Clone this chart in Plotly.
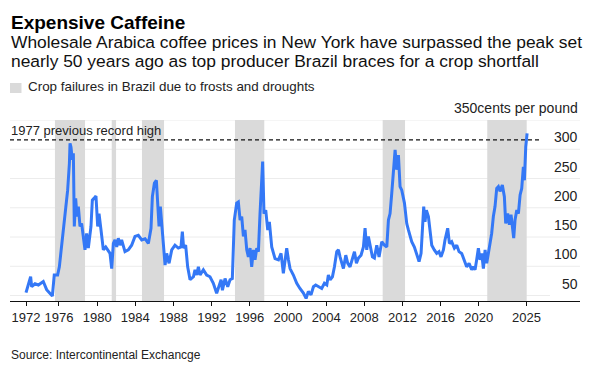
import plotly.graph_objects as go

# ---- data ----
dates = [
    "1972-07-18", "1973-01-11", "1973-02-20", "1973-06-27", "1973-11-03", "1974-05-10",
    "1974-09-16", "1975-01-22", "1975-04-22", "1975-07-04", "1975-11-10", "1976-01-15",
    "1976-04-11", "1976-06-16", "1976-08-17", "1976-10-22", "1976-11-28", "1977-02-03",
    "1977-02-27", "1977-04-04", "1977-05-25", "1977-07-04", "1977-08-10", "1977-10-01",
    "1977-11-21", "1978-01-11", "1978-03-16", "1978-05-17", "1978-07-19", "1978-09-23",
    "1978-11-25", "1979-01-29", "1979-05-10", "1979-07-01", "1979-09-02", "1979-11-17",
    "1980-01-22", "1980-03-13", "1980-05-28", "1980-08-25", "1980-11-25", "1981-03-05",
    "1981-05-07", "1981-07-11", "1981-09-13", "1981-11-14", "1982-01-19", "1982-03-20",
    "1982-05-25", "1982-07-26", "1982-12-02", "1983-04-08", "1983-08-14", "1983-12-20",
    "1984-04-26", "1984-09-02", "1985-01-08", "1985-05-14", "1985-08-24", "1985-10-15",
    "1986-01-01", "1986-03-17", "1986-05-07", "1986-06-27", "1986-08-17", "1986-10-08",
    "1986-12-09", "1987-02-13", "1987-04-15", "1987-07-16", "1987-10-26", "1988-02-27",
    "1988-07-04", "1988-10-15", "1988-12-05", "1989-01-25", "1989-04-11", "1989-06-27",
    "1989-09-27", "1990-02-03", "1990-04-04", "1990-06-10", "1990-08-11", "1990-10-15",
    "1991-02-17", "1991-06-24", "1991-10-30", "1992-03-06", "1992-07-11", "1992-10-12",
    "1992-12-28", "1993-02-17", "1993-05-28", "1993-09-08", "1993-12-05", "1994-03-03",
    "1994-05-17", "1994-08-17", "1994-10-19", "1994-12-25", "1995-02-25", "1995-05-01",
    "1995-07-01", "1995-09-06", "1995-11-07", "1996-01-11", "1996-03-13", "1996-05-17",
    "1996-07-19", "1996-09-23", "1996-11-25", "1997-01-26", "1997-04-01", "1997-05-07",
    "1997-06-27", "1997-09-02", "1997-11-17", "1998-01-19", "1998-04-19", "1998-06-20",
    "1998-08-24", "1999-01-01", "1999-04-11", "1999-07-08", "1999-09-13", "1999-11-14",
    "2000-01-19", "2000-03-20", "2000-07-26", "2000-12-02", "2001-04-04", "2001-08-14",
    "2001-11-25", "2002-02-20", "2002-06-01", "2002-09-01", "2002-11-28", "2003-03-09",
    "2003-07-15", "2003-10-26", "2004-01-26", "2004-03-27", "2004-06-01", "2004-08-29",
    "2004-11-14", "2005-02-10", "2005-04-16", "2005-06-17", "2005-08-22", "2005-10-23",
    "2006-01-22", "2006-04-08", "2006-07-04", "2006-10-04", "2006-12-20", "2007-03-06",
    "2007-05-22", "2007-08-29", "2007-11-28", "2008-01-30", "2008-04-04", "2008-06-05",
    "2008-08-11", "2008-11-07", "2009-01-22", "2009-04-22", "2009-07-19", "2009-10-30",
    "2010-02-10", "2010-05-11", "2010-07-12", "2010-09-13", "2010-11-17", "2011-01-19",
    "2011-03-25", "2011-05-25", "2011-07-30", "2011-10-01", "2011-12-05", "2012-03-17",
    "2012-06-13", "2012-08-15", "2012-10-16", "2012-12-20", "2013-04-01", "2013-06-28",
    "2013-09-27", "2013-12-13", "2014-02-03", "2014-03-24", "2014-05-14", "2014-07-04",
    "2014-09-20", "2014-11-21", "2015-01-26", "2015-05-04", "2015-08-04", "2015-10-30",
    "2016-01-15", "2016-04-15", "2016-06-16", "2016-09-27", "2016-12-02", "2017-02-27",
    "2017-06-10", "2017-09-09", "2017-12-05", "2018-03-17", "2018-06-27", "2018-09-23",
    "2018-12-25", "2019-04-04", "2019-06-05", "2019-08-11", "2019-10-12", "2019-12-16",
    "2020-02-17", "2020-04-23", "2020-06-24", "2020-08-29", "2020-10-30", "2021-01-04",
    "2021-03-06", "2021-05-07", "2021-07-11", "2021-09-13", "2021-11-17", "2022-01-19",
    "2022-03-24", "2022-06-20", "2022-09-06", "2022-10-27", "2023-01-11", "2023-03-17",
    "2023-05-19", "2023-07-08", "2023-08-29", "2023-10-19", "2023-12-25", "2024-02-25",
    "2024-04-30", "2024-07-01", "2024-09-02", "2024-10-12", "2024-12-02", "2025-01-23",
]
prices = [
    55, 82, 65, 70, 68, 74,
    60, 54, 49, 85, 85, 99,
    136, 156, 179, 213, 230, 276,
    310, 304, 282, 293, 168, 216,
    185, 202, 168, 173, 153, 128,
    156, 131, 168, 213, 216, 220,
    168, 190, 162, 128, 133, 125,
    122, 96, 139, 145, 133, 148,
    136, 145, 125, 128, 136, 151,
    153, 145, 147, 139, 165, 219,
    242, 247, 208, 168, 202, 168,
    128, 102, 122, 105, 128, 136,
    131, 133, 159, 131, 136, 99,
    77, 82, 94, 85, 99, 85,
    94, 85, 82, 71, 54, 65,
    77, 59, 79, 65, 77, 79,
    179, 208, 210, 179, 185, 151,
    162, 128, 116, 131, 99, 128,
    111, 131, 125, 190, 236, 279,
    190, 196, 162, 176, 133, 122,
    113, 111, 122, 88, 116, 131,
    111, 96, 85, 71, 62, 54,
    45, 57, 51, 65, 68, 65,
    62, 71, 68, 85, 77, 82,
    99, 125, 128, 116, 105, 96,
    119, 105, 99, 111, 125, 105,
    114, 119, 133, 165, 128, 151,
    133, 116, 114, 136, 116, 142,
    136, 133, 179, 190, 225, 270,
    299, 265, 290, 236, 230, 208,
    173, 162, 151, 142, 133, 119,
    108, 122, 168, 202, 176, 196,
    185, 162, 136, 128, 122, 125,
    116, 128, 145, 165, 139, 142,
    131, 136, 125, 122, 111, 99,
    105, 94, 99, 94, 111, 131,
    111, 122, 96, 128, 105, 122,
    133, 156, 185, 202, 233, 236,
    228, 239, 219, 173, 190, 171,
    188, 168, 148, 179, 196, 190,
    222, 233, 270, 247, 304, 327,
]
crop_start = ["1975-07-30", "1981-07-12", "1984-09-12", "1994-06-12", "2009-12-05", "2020-11-20"]
crop_end = ["1978-09-25", "1981-12-25", "1987-01-05", "1997-07-08", "2012-04-08", "2025-01-08"]
record_1977 = 316
tick_dates = ["1972-07-18", "1976-01-01", "1980-01-01", "1984-01-01", "1988-01-01", "1992-01-01",
              "1996-01-01", "2000-01-01", "2004-01-01", "2008-01-01", "2012-01-01", "2016-01-01",
              "2020-01-01", "2025-01-01"]
tick_text = ["1972", "1976", "1980", "1984", "1988", "1992", "1996", "2000", "2004", "2008",
             "2012", "2016", "2020", "2025"]
y_ticks = [50, 100, 150, 200, 250, 300, 350]
y_labels = ["50", "100", "150", "200", "250", "300", "350cents per pound"]

FONT = "Liberation Sans, Arial, Helvetica, sans-serif"
W, H = 600, 370
ML, MR, MT, MB = 10, 20, 120, 69
PW, PH = W - ML - MR, H - MT - MB


def px_x(px):
    return (px - ML) / PW


def px_y(py):
    return (H - MB - py) / PH


fig = go.Figure()
fig.add_trace(go.Scatter(x=dates, y=prices, mode="lines",
                         line=dict(color="#3478f6", width=3), hoverinfo="skip",
                         showlegend=False))

shapes = []
# gridlines
for v in y_ticks:
    shapes.append(dict(type="line", xref="paper", yref="y", x0=0,
                       x1=px_x(550) if v == 50 else 1, y0=v, y1=v,
                       line=dict(color="#ececec", width=1), layer="below"))
# crop failure bands
for s, e in zip(crop_start, crop_end):
    shapes.append(dict(type="rect", xref="x", yref="paper", x0=s, x1=e, y0=0, y1=1,
                       fillcolor="#dadada", line=dict(width=0), layer="below"))
# record line
shapes.append(dict(type="line", xref="x", yref="y", x0="1970-11-13", x1="2026-05-20",
                   y0=record_1977, y1=record_1977,
                   line=dict(color="#111111", width=1.3, dash="4px,3px"), layer="below"))
# legend swatch
shapes.append(dict(type="rect", xref="paper", yref="paper", x0=px_x(10), x1=px_x(21.5),
                   y0=px_y(93), y1=px_y(83), fillcolor="#dadada", line=dict(width=0)))

ann = []
ann.append(dict(text="<b>Expensive Caffeine</b>", xref="paper", yref="paper",
                x=px_x(9), y=px_y(22), xanchor="left", yanchor="middle", showarrow=False,
                font=dict(size=19, color="#000", family=FONT)))
sub_lines = ["Wholesale Arabica coffee prices in New York have surpassed the peak set",
             "nearly 50 years ago as top producer Brazil braces for a crop shortfall"]
for line, py in zip(sub_lines, [42, 61]):
    ann.append(dict(text=line, xref="paper", yref="paper", x=px_x(9), y=px_y(py),
                    xanchor="left", yanchor="middle", align="left", showarrow=False,
                    font=dict(size=17.4, color="#111", family=FONT)))
ann.append(dict(text="Crop failures in Brazil due to frosts and droughts", xref="paper",
                yref="paper", x=px_x(26), y=px_y(87), xanchor="left", yanchor="middle",
                showarrow=False, font=dict(size=13.4, color="#222", family=FONT)))
ann.append(dict(text="Source: Intercontinental Exchancge", xref="paper", yref="paper",
                x=px_x(9), y=px_y(355), xanchor="left", yanchor="middle", showarrow=False,
                font=dict(size=12, color="#222", family=FONT)))
ann.append(dict(text="1977 previous record high", xref="paper", yref="y", x=px_x(9),
                y=record_1977, xanchor="left", yanchor="bottom", yshift=0, showarrow=False,
                font=dict(size=13, color="#222", family=FONT)))
for v, t in zip(y_ticks, y_labels):
    ann.append(dict(text=t, xref="paper", yref="y", x=1, y=v, xanchor="right",
                    yanchor="bottom", yshift=2, showarrow=False,
                    font=dict(size=14, color="#222", family=FONT)))

fig.update_layout(
    width=W, height=H, margin=dict(l=ML, r=MR, t=MT, b=MB),
    paper_bgcolor="white", plot_bgcolor="white",
    font=dict(family=FONT, color="#222"),
    shapes=shapes, annotations=ann, showlegend=False,
    xaxis=dict(type="date", range=["1970-11-13", "2030-08-10"], tickmode="array",
               tickvals=tick_dates, ticktext=tick_text, ticks="outside", ticklen=4,
               tickcolor="#111", showgrid=False, zeroline=False, showline=True,
               linecolor="#111", linewidth=1, tickfont=dict(size=13, color="#222", family=FONT),
               fixedrange=True),
    yaxis=dict(range=[40.6, 350], showgrid=False, zeroline=False, showticklabels=False,
               showline=False, fixedrange=True),
)
fig.write_html("out.html", config={"displayModeBar": False},
               post_script="document.body.style.margin='0';document.body.style.overflow='hidden';")
